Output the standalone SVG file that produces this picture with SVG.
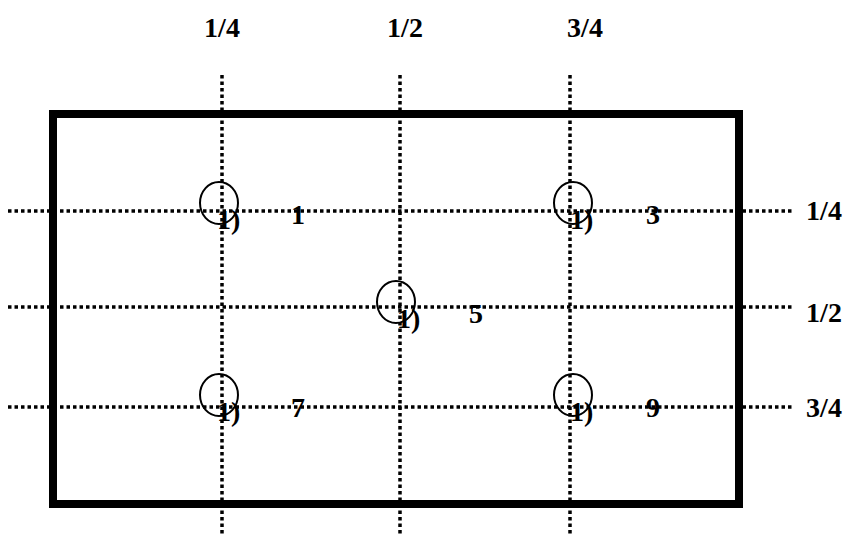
<svg xmlns="http://www.w3.org/2000/svg" width="856" height="539" viewBox="0 0 856 539">
<style>
.dot{stroke:#000;stroke-width:3.5;stroke-dasharray:3.5 3;fill:none}
.t{font-family:"Liberation Serif","Times New Roman",serif;font-weight:bold;font-size:28px;fill:#000}
.c{fill:none;stroke:#000;stroke-width:2}
</style>
<rect width="856" height="539" fill="#fff"/>
<g id="frame"><rect x="53" y="114" width="686" height="390" fill="none" stroke="#000" stroke-width="8"/></g>
<g id="connectors">
<line class="dot" x1="222" y1="75" x2="222" y2="536"/>
<line class="dot" x1="400" y1="75" x2="400" y2="536"/>
<line class="dot" x1="570" y1="75" x2="570" y2="536"/>
<line class="dot" x1="8" y1="211" x2="792" y2="211"/>
<line class="dot" x1="8" y1="307" x2="792" y2="307"/>
<line class="dot" x1="8" y1="407" x2="792" y2="407"/>
</g>
<g id="labels-top">
<text class="t" x="222" y="37" text-anchor="middle">1/4</text>
<text class="t" x="405" y="37" text-anchor="middle">1/2</text>
<text class="t" x="585" y="37" text-anchor="middle">3/4</text>
</g>
<g id="labels-right">
<text class="t" x="824" y="220" text-anchor="middle">1/4</text>
<text class="t" x="824" y="322" text-anchor="middle">1/2</text>
<text class="t" x="824" y="417" text-anchor="middle">3/4</text>
</g>
<g id="p1"><ellipse class="c" cx="219" cy="203" rx="19" ry="21"/><text class="t" x="217" y="229">1)</text><text class="t" x="298" y="224" text-anchor="middle">1</text></g>
<g id="p3"><ellipse class="c" cx="573" cy="203" rx="19" ry="21"/><text class="t" x="570" y="229">1)</text><text class="t" x="653" y="224" text-anchor="middle">3</text></g>
<g id="p5"><ellipse class="c" cx="396" cy="302" rx="19" ry="21"/><text class="t" x="397" y="328">1)</text><text class="t" x="476" y="323" text-anchor="middle">5</text></g>
<g id="p7"><ellipse class="c" cx="219" cy="395" rx="19" ry="21"/><text class="t" x="217" y="421">1)</text><text class="t" x="298" y="417" text-anchor="middle">7</text></g>
<g id="p9"><ellipse class="c" cx="573" cy="395" rx="19" ry="21"/><text class="t" x="570" y="421">1)</text><text class="t" x="653" y="417" text-anchor="middle">9</text></g>
</svg>
